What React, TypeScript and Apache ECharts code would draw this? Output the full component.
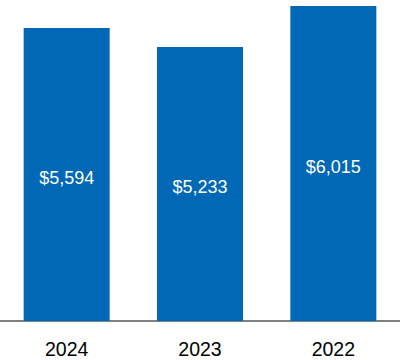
import React, { useEffect, useRef } from "react";
import * as echarts from "echarts";

const categories = ["2024", "2023", "2022"];
const values = [5594, 5233, 6015];

export default function App() {
  const ref = useRef<HTMLDivElement>(null);
  useEffect(() => {
    if (!ref.current) return;
    const chart = echarts.init(ref.current, null, { renderer: "svg" });
    chart.setOption({
      animation: false,
      grid: { left: 0, right: 0, top: 6, bottom: 39 },
      xAxis: {
        type: "category",
        data: categories,
        axisLine: { show: true, lineStyle: { color: "#808080", width: 2 } },
        axisTick: { show: false },
        axisLabel: {
          color: "#000",
          fontSize: 19.5,
          fontFamily: "Liberation Sans, Arial, sans-serif",
          margin: 18,
        },
      },
      yAxis: {
        type: "value",
        min: 0,
        max: 6015,
        show: false,
        splitLine: { show: false },
      },
      series: [
        {
          type: "bar",
          data: values,
          barWidth: 86,
          itemStyle: { color: "#0068B5" },
          label: {
            show: true,
            position: "inside",
            offset: [0, 3],
            color: "#fff",
            fontSize: 18,
            fontFamily: "Liberation Sans, Arial, sans-serif",
            formatter: (p: any) => "$" + p.value.toLocaleString("en-US"),
          },
        },
      ],
    });
    return () => chart.dispose();
  }, []);
  return <div ref={ref} style={{ width: 400, height: 360, position: "absolute", left: 0, top: 0 }} />;
}
